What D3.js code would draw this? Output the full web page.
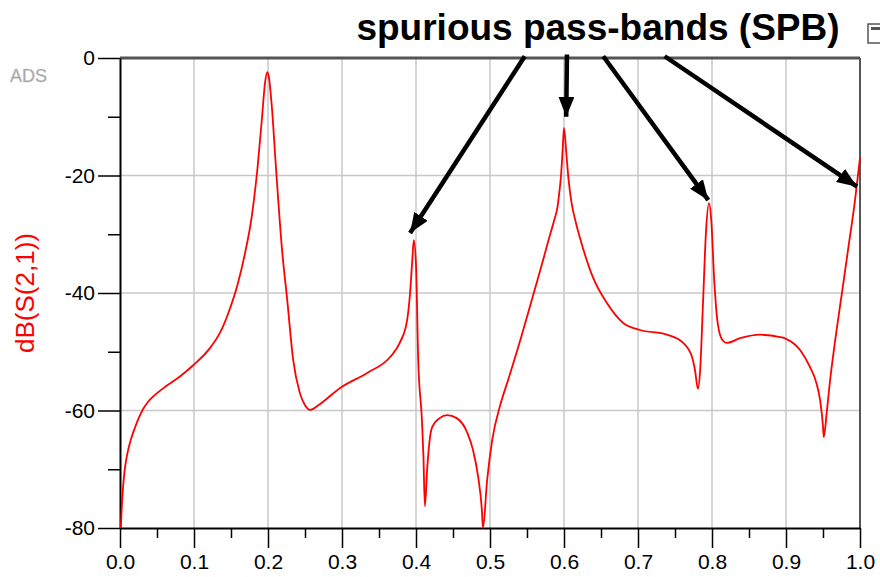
<!DOCTYPE html>
<html lang="en">
<head>
  <meta charset="utf-8">
  <title>dB(S(2,1))</title>
  <script src="https://cdn.jsdelivr.net/npm/d3@7"></script>
  <style>
    body { margin: 0; background: #fff; }
    text { font-family: "Liberation Sans", Arial, sans-serif; }
  </style>
</head>
<body>
  <svg id="chart"></svg>
  <script>
    // frequency (normalised) and S21 in dB
    var freq = [0.001, 0.003, 0.006, 0.010, 0.015, 0.0203, 0.026, 0.0315, 0.038, 0.045, 0.063, 0.081,
      0.099, 0.122, 0.135, 0.149, 0.159, 0.169, 0.178, 0.186, 0.192, 0.196, 0.199, 0.201, 0.205,
      0.211, 0.219, 0.226, 0.234, 0.243, 0.250, 0.257, 0.268, 0.297, 0.334, 0.365, 0.378, 0.388,
      0.392, 0.395, 0.397, 0.400, 0.403, 0.408, 0.410, 0.412, 0.415, 0.419, 0.422, 0.432, 0.442,
      0.455, 0.469, 0.477, 0.484, 0.489, 0.4905, 0.496, 0.503, 0.514, 0.524, 0.541, 0.558, 0.568,
      0.578, 0.587, 0.591, 0.594, 0.596, 0.598, 0.600, 0.603, 0.606, 0.610, 0.616, 0.622, 0.639,
      0.658, 0.680, 0.703, 0.739, 0.761, 0.773, 0.777, 0.781, 0.784, 0.788, 0.792, 0.796, 0.799,
      0.803, 0.808, 0.814, 0.820, 0.838, 0.865, 0.892, 0.900, 0.919, 0.932, 0.941, 0.946, 0.950,
      0.951, 0.955, 0.959, 0.966, 0.975, 0.984, 0.993, 1.0];
    var s21 = [-80, -75, -70.5, -67.3, -64.8, -62.9, -61.1, -59.7, -58.5, -57.6, -55.8, -54.2,
      -52.3, -49.3, -46.8, -42.5, -38.5, -33.2, -27.0, -18.5, -10.0, -4.2, -2.4, -3.1, -8.0,
      -19.1, -32.7, -41.2, -51.4, -57.0, -59.1, -59.9, -59.1, -56.2, -53.6, -50.9, -48.5, -44.6,
      -40.0, -34.4, -31.0, -35.2, -51.4, -61.6, -67.6, -76.3, -70.1, -64.5, -62.8, -61.3, -60.8,
      -61.3, -63.7, -66.7, -71.3, -76.9, -80, -72.0, -65.0, -59.0, -55.0, -48.0, -40.5, -36.1,
      -31.5, -27.5, -25.5, -22.5, -20.0, -16.0, -11.9, -16.0, -20.5, -24.5, -28.0, -30.8, -37.3,
      -41.7, -45.1, -46.3, -47.1, -48.5, -50.9, -53.1, -56.3, -53.1, -41.2, -29.3, -24.7, -27.6,
      -37.8, -45.4, -48.0, -48.5, -47.7, -47.1, -47.5, -47.8, -49.7, -52.5, -55.3, -58.2, -62.7,
      -64.5, -60.4, -55.5, -48.5, -40.5, -32.5, -24.5, -17.0];

    var xTicks = [0, 0.1, 0.2, 0.3, 0.4, 0.5, 0.6, 0.7, 0.8, 0.9, 1.0];
    var yTicks = [0, -20, -40, -60, -80];

    // spurious pass-band arrows: start (above plot) and tip, in data units
    var arrowFrom = [[0.547, 0.3], [0.604, 0.6], [0.653, 0.3], [0.736, 0.3]];
    var arrowTo = [[0.392, -29.8], [0.603, -10.0], [0.795, -24.2], [0.996, -21.9]];

    var w = 880, h = 577;
    var padL = 120, padR = 860, padT = 58, padB = 528;

    var svg = d3.select("#chart").attr("width", w).attr("height", h);

    var x = d3.scaleLinear().domain([0, 1]).range([padL, padR]);
    var y = d3.scaleLinear().domain([-80, 0]).range([padB, padT]);

    // grid
    svg.append("g").selectAll("line").data(xTicks.slice(1, -1)).enter().append("line")
      .attr("x1", function(d) { return x(d); }).attr("x2", function(d) { return x(d); })
      .attr("y1", padT).attr("y2", padB)
      .attr("stroke", "#c8c8c8").attr("stroke-width", 1.5);
    svg.append("g").selectAll("line").data(yTicks.slice(1, -1)).enter().append("line")
      .attr("y1", function(d) { return y(d); }).attr("y2", function(d) { return y(d); })
      .attr("x1", padL).attr("x2", padR)
      .attr("stroke", "#c8c8c8").attr("stroke-width", 1.5);

    // top and right frame
    svg.append("line").attr("x1", padL).attr("x2", padR).attr("y1", padT).attr("y2", padT)
      .attr("stroke", "#555").attr("stroke-width", 3);
    svg.append("line").attr("x1", padR).attr("x2", padR).attr("y1", padT).attr("y2", padB)
      .attr("stroke", "#555").attr("stroke-width", 2);

    // minor ticks
    var xMinor = d3.range(0.05, 1, 0.1);
    var yMinor = [-10, -30, -50, -70];
    svg.append("g").attr("transform", "translate(0," + padB + ")")
      .call(d3.axisBottom(x).tickValues(xMinor).tickSize(10).tickSizeOuter(0).tickFormat(""))
      .call(function(g) { g.select(".domain").remove(); })
      .selectAll("line").attr("stroke", "#000").attr("stroke-width", 1.5);
    svg.append("g").attr("transform", "translate(" + padL + ",0)")
      .call(d3.axisLeft(y).tickValues(yMinor).tickSize(12).tickSizeOuter(0).tickFormat(""))
      .call(function(g) { g.select(".domain").remove(); })
      .selectAll("line").attr("stroke", "#000").attr("stroke-width", 1.5);

    // major axes
    var xAxis = svg.append("g").attr("transform", "translate(0," + padB + ")")
      .call(d3.axisBottom(x).tickValues(xTicks).tickSize(20).tickSizeOuter(0).tickPadding(6)
        .tickFormat(function(d) { return d.toFixed(1); }));
    var yAxis = svg.append("g").attr("transform", "translate(" + padL + ",0)")
      .call(d3.axisLeft(y).tickValues(yTicks).tickSize(22).tickSizeOuter(0).tickPadding(3)
        .tickFormat(function(d) { return String(d); }));
    [xAxis, yAxis].forEach(function(g) {
      g.selectAll("line").attr("stroke", "#000").attr("stroke-width", 1.5);
      g.select(".domain").attr("stroke", "#000").attr("stroke-width", 2);
      g.selectAll("text").attr("font-size", 21).attr("fill", "#000")
        .attr("font-family", "'Liberation Sans', Arial, sans-serif");
    });

    // S21 trace
    var pts = freq.map(function(f, i) { return [f, s21[i]]; });
    var line = d3.line()
      .x(function(d) { return x(d[0]); })
      .y(function(d) { return y(d[1]); })
      .curve(d3.curveMonotoneX);
    svg.append("path").datum(pts)
      .attr("d", line)
      .attr("fill", "none")
      .attr("stroke", "#ff0000")
      .attr("stroke-width", 1.8);

    // y label
    svg.append("text")
      .attr("transform", "translate(34," + ((padT + padB) / 2) + ") rotate(-90)")
      .attr("text-anchor", "middle")
      .attr("font-size", 26)
      .attr("fill", "#ff0000")
      .text("dB(S(2,1))");

    // ADS tag
    svg.append("text").attr("x", 10).attr("y", 82)
      .attr("font-size", 18).attr("fill", "#999")
      .attr("stroke", "#ccc").attr("stroke-width", 0.6)
      .text("ADS");

    // small icon, clipped by the right edge
    svg.append("rect").attr("x", 868).attr("y", 24).attr("width", 16).attr("height", 19)
      .attr("fill", "none").attr("stroke", "#555").attr("stroke-width", 1.5);
    svg.append("rect").attr("x", 871).attr("y", 27).attr("width", 9).attr("height", 3)
      .attr("fill", "#555");

    // annotation
    svg.append("text").attr("x", 598).attr("y", 40)
      .attr("text-anchor", "middle")
      .attr("font-size", 37).attr("font-weight", "bold").attr("fill", "#000")
      .text("spurious pass-bands (SPB)");

    svg.append("defs").append("marker")
      .attr("id", "head")
      .attr("viewBox", "0 0 20 16")
      .attr("refX", 20).attr("refY", 8)
      .attr("markerWidth", 20).attr("markerHeight", 16)
      .attr("markerUnits", "userSpaceOnUse")
      .attr("orient", "auto")
      .append("path").attr("d", "M0,0 L20,8 L0,16 Z").attr("fill", "#000");

    svg.append("g").selectAll("line").data(arrowFrom).enter().append("line")
      .attr("x1", function(d) { return x(d[0]); })
      .attr("y1", function(d) { return y(d[1]); })
      .attr("x2", function(d, i) { return x(arrowTo[i][0]); })
      .attr("y2", function(d, i) { return y(arrowTo[i][1]); })
      .attr("stroke", "#000").attr("stroke-width", 4.5)
      .attr("marker-end", "url(#head)");
  </script>
</body>
</html>
